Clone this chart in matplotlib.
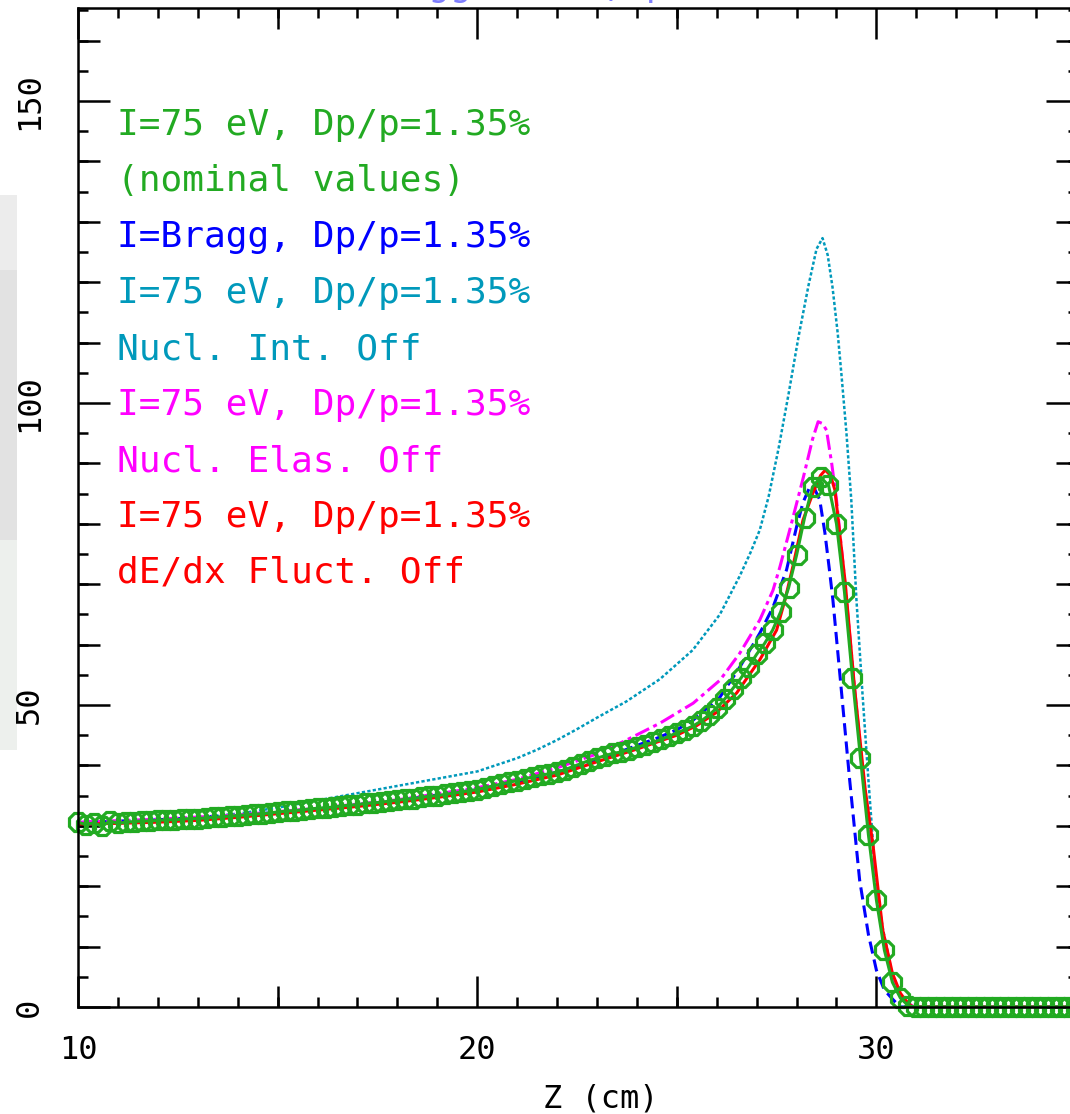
import numpy as np
import matplotlib
matplotlib.use("Agg")
import matplotlib.pyplot as plt
from matplotlib.ticker import MultipleLocator
from matplotlib.patches import Rectangle

plt.rcParams['font.family'] = ['DejaVu Sans Mono']

# nominal: I=75 eV, Dp/p=1.35% (green, markers every 0.2 cm)
z_nom = np.round(np.arange(10.0, 35.01, 0.2), 1)
d_nom = [30.6, 30.2, 30.5, 29.9, 30.8, 30.4, 30.6, 30.7, 30.8, 30.8,
         30.9, 31.0, 31.0, 31.1, 31.2, 31.2, 31.3, 31.4, 31.5, 31.6,
         31.7, 31.8, 31.9, 32.0, 32.1, 32.3, 32.4, 32.5, 32.6, 32.8,
         32.9, 33.0, 33.1, 33.3, 33.4, 33.5, 33.7, 33.8, 33.9, 34.1,
         34.2, 34.4, 34.5, 34.7, 34.9, 35.0, 35.2, 35.4, 35.6, 35.8,
         36.0, 36.3, 36.6, 36.9, 37.2, 37.5, 37.8, 38.1, 38.4, 38.6,
         38.9, 39.3, 39.8, 40.3, 40.8, 41.2, 41.6, 42.0, 42.2, 42.6,
         43.0, 43.4, 43.8, 44.3, 44.8, 45.4, 45.9, 46.5, 47.3, 48.3,
         49.5, 51.0, 52.7, 54.4, 56.3, 58.4, 60.2, 62.4, 65.4, 69.4,
         74.8, 81.0, 86.1, 87.7, 86.4, 80.0, 68.7, 54.5, 41.3, 28.5,
         17.7, 9.4, 4.1, 1.5, 0.2, 0.0, 0.0, 0.0, 0.0, 0.0,
         0.0, 0.0, 0.0, 0.0, 0.0, 0.0, 0.0, 0.0, 0.0, 0.0,
         0.0, 0.0, 0.0, 0.0, 0.0, 0.0]

# I=Bragg (blue dashed)
z_bragg = [10, 12, 14, 16, 18, 20, 21, 22, 23, 24, 24.5, 25, 25.41, 26.08, 26.58,
           27.08, 27.41, 27.75, 28.0, 28.16, 28.33, 28.45, 28.58, 28.71, 28.83,
           28.91, 29.1, 29.33, 29.58, 29.8, 30.0, 30.2, 30.42, 30.6, 35]
d_bragg = [30.5, 31.0, 31.7, 32.8, 34.2, 36.0, 37.3, 38.9, 40.8, 43.3, 44.5, 45.9, 47.5, 51.3, 56.3,
           61.9, 66.2, 72.4, 79.5, 83.5, 86.1, 85.8, 84.0, 78.5, 72.0,
           67.4, 54.0, 37.6, 21.0, 12.0, 6.1, 2.8, 1.2, 0.0, 0.0]

# nuclear interactions off (teal dotted)
z_nuc = [10, 12, 13, 14, 15, 16, 17, 18, 19, 20,
         21, 21.5, 22.0, 22.5, 23.0, 23.74, 24.58, 25.4, 26.08, 26.58,
         26.85, 27.08, 27.3, 27.55, 27.8, 28.05, 28.3, 28.5, 28.65, 28.78,
         28.9, 29.03, 29.13, 29.25, 29.37, 29.5, 29.65, 29.8, 30.0, 30.17,
         30.41, 30.65, 30.85, 35]
d_nuc = [30.6, 31.0, 31.4, 32.0, 33.0, 34.2, 35.4, 36.6, 37.8, 39.0,
         41.2, 42.6, 44.2, 46.0, 47.9, 50.6, 54.3, 59.1, 65.0, 71.4,
         75.3, 79.0, 84.5, 92.5, 101.5, 111.0, 119.5, 125.5, 127.3, 124.5,
         119.2, 111.6, 104.3, 95.0, 84.0, 67.4, 52.0, 37.6, 19.4, 12.7,
         5.0, 1.2, 0.0, 0.0]

# nuclear elastic off (magenta dash-dot)
z_elas = [10, 12, 14, 16, 18, 20, 21, 22, 23, 23.74, 24.58, 25.41, 26.08, 26.58,
          27.08, 27.41, 27.58, 27.83, 28.17, 28.4, 28.54, 28.65, 28.75, 28.88, 29.0,
          29.2, 29.45, 29.7, 29.9, 30.15, 30.4, 30.6, 30.75, 30.95, 35]
d_elas = [30.6, 31.1, 31.8, 32.9, 34.3, 36.3, 37.7, 39.6, 41.9, 44.2, 47.0, 50.3, 54.1, 58.6,
          64.1, 69.0, 72.8, 79.0, 87.7, 94.0, 96.9, 96.6, 95.5, 90.0, 84.0,
          71.0, 53.0, 36.0, 25.5, 12.5, 5.3, 2.0, 0.8, 0.0, 0.0]

# dE/dx fluctuations off (red solid)
z_fluct = [10, 11, 12, 13, 14, 15, 16, 17, 18, 19, 20, 21, 22, 23, 24, 25, 25.5, 26, 26.5,
           27.08, 27.5, 27.71, 27.91, 28.16, 28.41, 28.6, 28.72, 28.85, 28.96, 29.08,
           29.22, 29.45, 29.72, 29.92, 30.16, 30.4, 30.6, 30.72, 30.9, 35]
d_fluct = [30.3, 30.4, 30.6, 30.9, 31.4, 32.0, 32.6, 33.2, 33.9, 34.7, 35.6, 36.9, 38.4, 40.6, 42.7, 45.0, 46.6, 48.8, 52.0,
           57.5, 62.4, 67.4, 73.0, 80.6, 85.1, 88.0, 88.9, 88.0, 85.6, 78.5,
           70.2, 53.0, 36.0, 26.5, 12.7, 5.6, 2.3, 1.2, 0.0, 0.0]

labels = [("I=75 eV, Dp/p=1.35%", '#22aa22'),
          ("(nominal values)", '#22aa22'),
          ("I=Bragg, Dp/p=1.35%", '#0000ff'),
          ("I=75 eV, Dp/p=1.35%", '#0099bb'),
          ("Nucl. Int. Off", '#0099bb'),
          ("I=75 eV, Dp/p=1.35%", '#ff00ff'),
          ("Nucl. Elas. Off", '#ff00ff'),
          ("I=75 eV, Dp/p=1.35%", '#ff0000'),
          ("dE/dx Fluct. Off", '#ff0000')]

W, H = 1070, 1114
fig = plt.figure(figsize=(W / 100, H / 100), dpi=100)
ax = fig.add_axes([78 / W, 1 - 1007 / H, (1078 - 78) / W, (1007 - 8) / H])

# faint background patches at left edge
fig.add_artist(Rectangle((0, 1 - 540 / H), 17 / W, 345 / H, transform=fig.transFigure,
                         color='#ececec', lw=0, zorder=0))
fig.add_artist(Rectangle((0, 1 - 540 / H), 17 / W, 270 / H, transform=fig.transFigure,
                         color='#e2e2e2', lw=0, zorder=0))
fig.add_artist(Rectangle((0, 1 - 750 / H), 17 / W, 210 / H, transform=fig.transFigure,
                         color='#edf0ed', lw=0, zorder=0))

ax.plot(z_nuc, d_nuc, color='#0099bb', lw=1.8, dashes=(1.3, 0.9))
ax.plot(z_bragg, d_bragg, color='#0000ff', lw=2.2, dashes=(4, 2))
ax.plot(z_elas, d_elas, color='#ff00ff', lw=2.2, dashes=(5, 1.5, 1.3, 1.5))
ax.plot(z_fluct, d_fluct, color='#ff0000', lw=2.2)
ax.plot(z_nom, d_nom, color='#22aa22', lw=2.2, marker='8', ms=13.5, mfc='none',
        mew=2.3, clip_on=False)

ax.set_xlim(10, 35.05)
ax.set_ylim(0, 165.4)

for s in ax.spines.values():
    s.set_linewidth(1.8)

ax.set_xticks([10, 20, 30])
ax.set_yticks([0, 50, 100, 150])
ax.xaxis.set_minor_locator(MultipleLocator(1))
ax.yaxis.set_minor_locator(MultipleLocator(5))
ax.tick_params(which='both', direction='in', top=True, right=True, width=1.8, colors='black')
ax.tick_params(axis='x', which='major', length=22, pad=20, labelsize=23)
ax.tick_params(axis='y', which='major', length=23, pad=24, labelsize=23)
ax.tick_params(which='minor', length=7)
for lab in ax.get_yticklabels():
    lab.set_rotation(90)
    lab.set_va('center')

# medium ticks
for side in ['bottom', 'top']:
    sx = ax.secondary_xaxis(side)
    sx.set_xticks([15, 25])
    sx.tick_params(direction='in', length=15, width=1.8, labelbottom=False, labeltop=False)
    for s in sx.spines.values():
        s.set_visible(False)
for side in ['left', 'right']:
    sy = ax.secondary_yaxis(side)
    sy.set_yticks([10, 20, 30, 40, 60, 70, 80, 90, 110, 120, 130, 140, 160])
    sy.tick_params(direction='in', length=16, width=1.8, labelleft=False, labelright=False)
    for s in sy.spines.values():
        s.set_visible(False)

fig.text(601 / W, 1 - 1099 / H, "Z (cm)", ha='center', va='center', fontsize=23)

for i, (txt, col) in enumerate(labels):
    fig.text(117 / W, 1 - (135 + 56 * i) / H, txt, color=col, fontsize=26,
             ha='left', va='baseline')

# title, mostly above the visible frame as in the source image
fig.text(570 / W, 1 + 4 / H, "Bragg curve, p beam", color='#0000ff', fontsize=26,
         ha='center', va='baseline', alpha=0.5)

fig.savefig('out.png', dpi=100)
